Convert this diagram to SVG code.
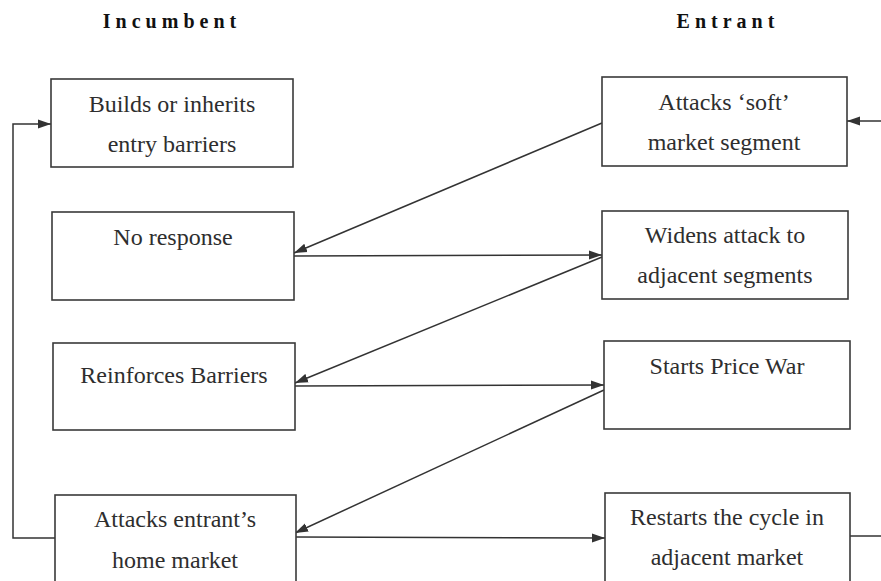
<svg xmlns="http://www.w3.org/2000/svg" width="881" height="581" viewBox="0 0 881 581">
<defs>
<style>
.box{fill:#ffffff;stroke:#3a3a3a;stroke-width:1.6}
.lbl{font-family:"Liberation Serif","Times New Roman",serif;font-size:24px;fill:#2e2e2e;text-anchor:middle}
.ttl{font-family:"Liberation Serif","Times New Roman",serif;font-size:20px;font-weight:bold;fill:#111;text-anchor:middle;letter-spacing:5px}
.con{fill:none;stroke:#333;stroke-width:1.5}
</style>
<marker id="ah" markerUnits="userSpaceOnUse" markerWidth="14" markerHeight="10" refX="13" refY="5" orient="auto">
<path d="M0,0.5 L13,5 L0,9.5 z" fill="#333"/>
</marker>
</defs>
<rect width="881" height="581" fill="#ffffff"/>
<g id="titles">
<text class="ttl" x="172" y="28">Incumbent</text>
<text class="ttl" x="728" y="28">Entrant</text>
</g>
<g id="connectors">
<polyline class="con" points="55,538 13,538 13,124 51,124" marker-end="url(#ah)"/>
<line class="con" x1="881" y1="121" x2="847" y2="121" marker-end="url(#ah)"/>
<line class="con" x1="850" y1="536" x2="881" y2="536"/>
<line class="con" x1="602" y1="123" x2="294" y2="253" marker-end="url(#ah)"/>
<line class="con" x1="294" y1="256" x2="602" y2="255" marker-end="url(#ah)"/>
<line class="con" x1="602" y1="257" x2="295" y2="383" marker-end="url(#ah)"/>
<line class="con" x1="295" y1="386" x2="604" y2="385" marker-end="url(#ah)"/>
<line class="con" x1="604" y1="390" x2="295" y2="533" marker-end="url(#ah)"/>
<line class="con" x1="296" y1="537" x2="605" y2="538" marker-end="url(#ah)"/>
</g>
<g id="inc-builds">
<rect class="box" x="51" y="79" width="242" height="88"/>
<text class="lbl" x="172" y="112">Builds or inherits</text>
<text class="lbl" x="172" y="152">entry barriers</text>
</g>
<g id="inc-noresponse">
<rect class="box" x="52" y="212" width="242" height="88"/>
<text class="lbl" x="173" y="245">No response</text>
</g>
<g id="inc-reinforces">
<rect class="box" x="53" y="343" width="242" height="87"/>
<text class="lbl" x="174" y="383">Reinforces Barriers</text>
</g>
<g id="inc-attacks">
<rect class="box" x="55" y="495" width="241" height="90"/>
<text class="lbl" x="175" y="527">Attacks entrant’s</text>
<text class="lbl" x="175" y="568">home market</text>
</g>
<g id="ent-attacks">
<rect class="box" x="602" y="77" width="245" height="89"/>
<text class="lbl" x="724" y="110">Attacks ‘soft’</text>
<text class="lbl" x="724" y="150">market segment</text>
</g>
<g id="ent-widens">
<rect class="box" x="602" y="211" width="246" height="88"/>
<text class="lbl" x="725" y="243">Widens attack to</text>
<text class="lbl" x="725" y="283">adjacent segments</text>
</g>
<g id="ent-pricewar">
<rect class="box" x="604" y="341" width="246" height="88"/>
<text class="lbl" x="727" y="374">Starts Price War</text>
</g>
<g id="ent-restarts">
<rect class="box" x="605" y="493" width="245" height="92"/>
<text class="lbl" x="727" y="525">Restarts the cycle in</text>
<text class="lbl" x="727" y="565">adjacent market</text>
</g>
</svg>
